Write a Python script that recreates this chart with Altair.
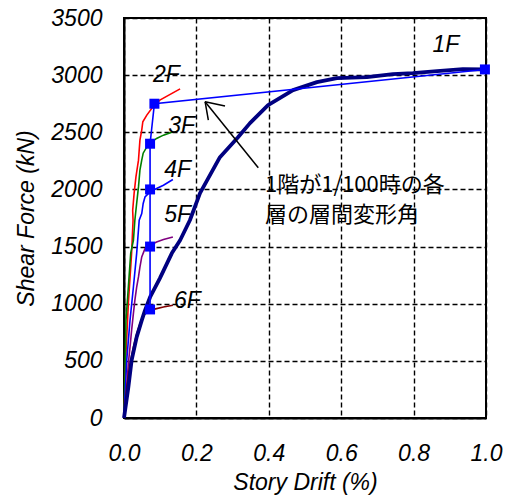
import altair as alt
import pandas as pd

# ---- data ----
floors = ["1F", "2F", "3F", "4F", "5F", "6F"]
colors = ["#000080", "#FF0000", "#008000", "#0000FF", "#800080", "#800000"]

f1_x = [0, 0.012, 0.021, 0.035, 0.049, 0.058, 0.072, 0.099, 0.132, 0.155, 0.182, 0.21, 0.265,
        0.315, 0.348, 0.398, 0.467, 0.533, 0.588, 0.671, 0.743, 0.798, 0.865, 0.936, 0.997]
f1_y = [0, 270, 504, 708, 854, 942, 1057, 1222, 1441, 1555, 1730, 1967, 2282,
        2457, 2580, 2738, 2869, 2939, 2974, 2983, 3009, 3018, 3036, 3053, 3050]

f2_x = [0, 0.0055, 0.012, 0.021, 0.025, 0.024, 0.028, 0.033, 0.040, 0.044, 0.049, 0.052, 0.063, 0.080, 0.099, 0.155]
f2_y = [0, 565, 1003, 1441, 1730, 1818, 1967, 2110, 2256, 2431, 2519, 2592, 2650, 2723, 2782, 2880]

f3_x = [0, 0.003, 0.0055, 0.012, 0.0185, 0.026, 0.030, 0.035, 0.040, 0.044, 0.049, 0.053, 0.063, 0.077, 0.090, 0.109, 0.136]
f3_y = [0, 416, 854, 1146, 1441, 1555, 1730, 1879, 2022, 2168, 2256, 2317, 2372, 2416, 2446, 2475, 2504]

f4_x = [0, 0.0075, 0.0166, 0.026, 0.035, 0.042, 0.049, 0.053, 0.058, 0.072, 0.090, 0.109, 0.135]
f4_y = [0, 504, 854, 1146, 1441, 1730, 1789, 1877, 1934, 1978, 2008, 2037, 2087]

f5_x = [0, 0.0075, 0.012, 0.0166, 0.021, 0.026, 0.030, 0.035, 0.040, 0.044, 0.049, 0.058, 0.072, 0.090, 0.109, 0.135]
f5_y = [0, 270, 477, 620, 767, 915, 1029, 1146, 1234, 1321, 1409, 1482, 1511, 1540, 1561, 1584]

f6_x = [0, 0.0075, 0.0166, 0.026, 0.035, 0.044, 0.053, 0.072, 0.090, 0.109, 0.135]
f6_y = [0, 270, 477, 620, 738, 825, 898, 942, 957, 971, 986]

# drift of each floor when 1F reaches 1/100
mark_floor = ["6F", "5F", "4F", "3F", "2F", "1F"]
mark_x = [0.072, 0.072, 0.072, 0.072, 0.084, 0.997]
mark_y = [950, 1500, 2000, 2400, 2750, 3050]

label_text = ["1F", "2F", "3F", "4F", "5F", "6F"]
label_x = [0.889, 0.117, 0.159, 0.148, 0.148, 0.175]
label_y = [3264, 3001, 2555, 2170, 1772, 1028]

arrow_x = [0.371, 0.224, 0.224]
arrow_y = [2190, 2768, 2768]
arrow_x2 = [0.224, 0.279, 0.233]
arrow_y2 = [2768, 2730, 2607]

note_text = ["1階が1/100時の各\n層の層間変形角"]
note_x = [0.3895]
note_y = [2040]

x_ticks = [0, 0.2, 0.4, 0.6, 0.8, 1.0]
y_ticks = [0, 500, 1000, 1500, 2000, 2500, 3000, 3500]

# ---- tables ----
rows = []
for name, xs, ys in [("1F", f1_x, f1_y), ("2F", f2_x, f2_y), ("3F", f3_x, f3_y),
                     ("4F", f4_x, f4_y), ("5F", f5_x, f5_y), ("6F", f6_x, f6_y)]:
    for i, (xv, yv) in enumerate(zip(xs, ys)):
        rows.append({"floor": name, "x": xv, "y": yv, "i": i})
curves = pd.DataFrame(rows)
marks = pd.DataFrame({"floor": mark_floor, "x": mark_x, "y": mark_y, "i": list(range(len(mark_x)))})
labels = pd.DataFrame({"t": label_text, "x": label_x, "y": label_y})
arrow = pd.DataFrame({"x": arrow_x, "y": arrow_y, "x2": arrow_x2, "y2": arrow_y2})
note = pd.DataFrame({"t": note_text, "x": note_x, "y": note_y})

FONT = "Liberation Sans"
xscale = alt.Scale(domain=[0, 1], nice=False, zero=False)
yscale = alt.Scale(domain=[0, 3500], nice=False)
xaxis = alt.Axis(values=x_ticks, format=".1f", title="Story Drift (%)", ticks=False,
                 labelPadding=24, titlePadding=6, labelFlush=False)
yaxis = alt.Axis(values=y_ticks, format="d", title="Shear Force (kN)", ticks=False,
                 labelPadding=22, titlePadding=12)


def X(field="x"):
    return alt.X(f"{field}:Q", scale=xscale, axis=xaxis)


def Y(field="y"):
    return alt.Y(f"{field}:Q", scale=yscale, axis=yaxis)


color = alt.Color("floor:N", scale=alt.Scale(domain=floors, range=colors), legend=None)

thin = alt.Chart(curves).transform_filter(alt.datum.floor != "1F").mark_line(
    strokeWidth=1.6).encode(x=X(), y=Y(), color=color, detail="floor:N", order="i:Q")
thick = alt.Chart(curves).transform_filter(alt.datum.floor == "1F").mark_line(
    strokeWidth=3.8, strokeJoin="round").encode(x=X(), y=Y(), color=color, order="i:Q")
mline = alt.Chart(marks).mark_line(color="#0000FF", strokeWidth=1.6).encode(
    x=X(), y=Y(), order="i:Q")
msq = alt.Chart(marks).mark_square(size=100, color="#0000FF", opacity=1, filled=True).encode(
    x=X(), y=Y())
ltext = alt.Chart(labels).mark_text(font=FONT, fontSize=23, fontStyle="italic", color="black").encode(
    x=X(), y=Y(), text="t:N")
arr = alt.Chart(arrow).mark_rule(color="black", strokeWidth=1.5).encode(
    x=X(), y=Y(), x2="x2:Q", y2="y2:Q")
ntext = alt.Chart(note).mark_text(font="Noto Sans CJK JP", fontSize=22, align="left",
                                  baseline="middle", lineBreak="\n", lineHeight=30,
                                  color="black").encode(x=X(), y=Y(), text="t:N")

chart = alt.layer(thin, thick, mline, msq, arr, ntext, ltext).properties(
    width=362, height=400, autosize="none",
    padding={"left": 124, "top": 18, "right": 20, "bottom": 79},
).configure_view(stroke="black", strokeWidth=2).configure_axis(
    domainColor="black", domainWidth=2,
    grid=True, gridColor="black", gridDash=[5, 3], gridWidth=1.4, gridOpacity=1,
    labelFont=FONT, labelFontSize=23, labelFontStyle="italic", labelColor="black",
    titleFont=FONT, titleFontSize=23, titleFontStyle="italic", titleFontWeight="normal",
    titleColor="black",
)

chart.save("out.html", embed_options={"renderer": "svg", "actions": False})
